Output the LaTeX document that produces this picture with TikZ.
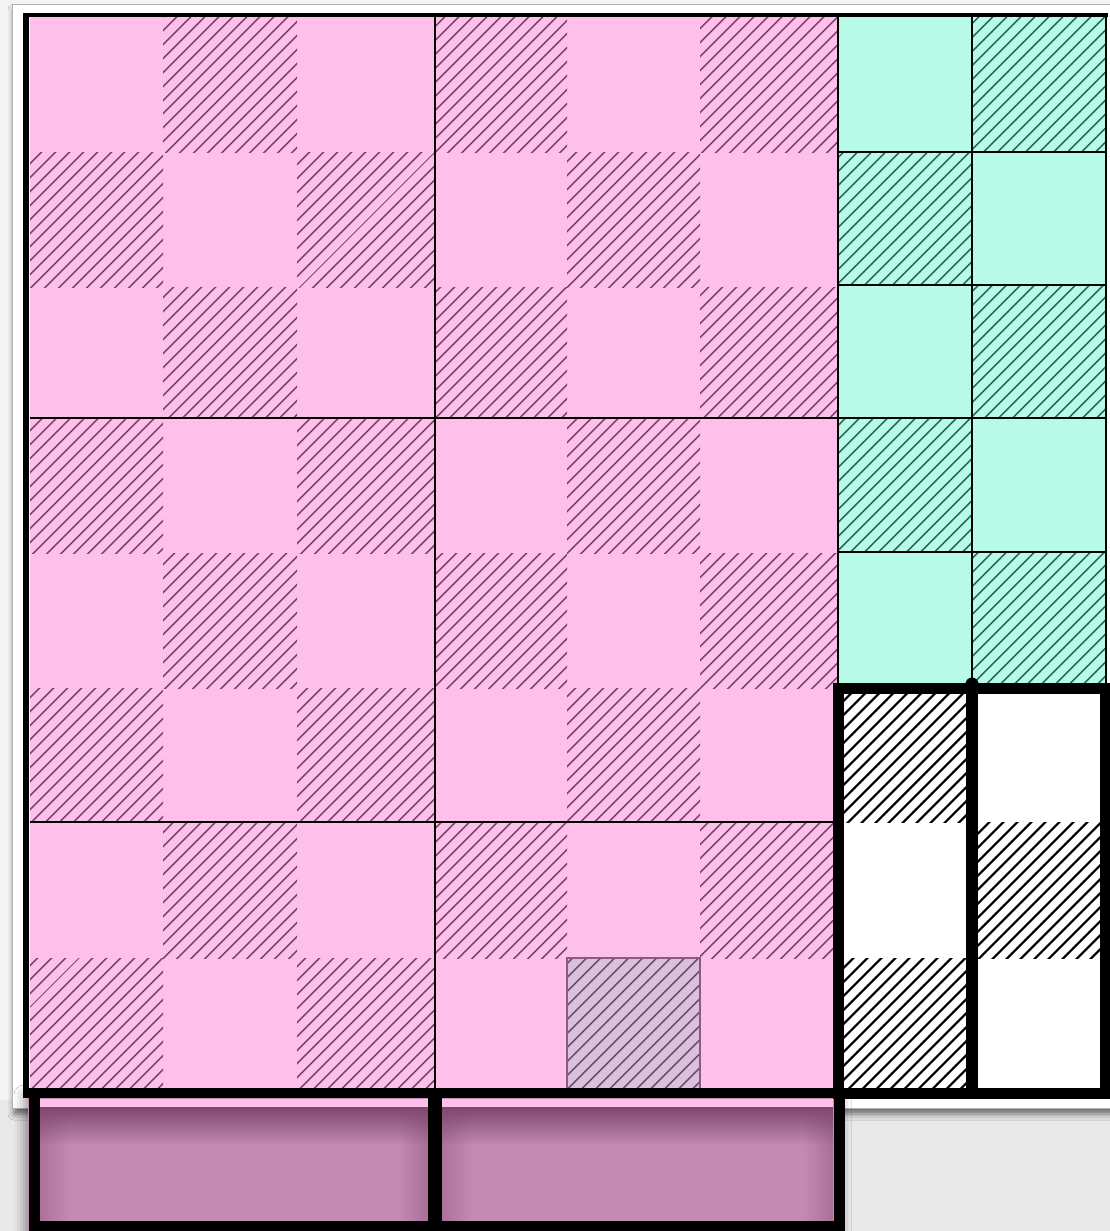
\documentclass[tikz,border=0pt]{standalone}
\usetikzlibrary{patterns.meta,shadows.blur,fadings}
\definecolor{bgl}{HTML}{F3F3F3}
\definecolor{bgd}{HTML}{E8E8E8}
\definecolor{pinkf}{HTML}{FEC0EA}
\definecolor{pinkh}{HTML}{7A4A6E}
\definecolor{tealf}{HTML}{B7FAE7}
\definecolor{tealh}{HTML}{2F6B5A}
\definecolor{lav}{HTML}{D8C1DC}
\definecolor{lavb}{HTML}{8B5A82}
\definecolor{mauve}{HTML}{C58AB3}
\definecolor{mauved}{HTML}{7E4770}
\tikzfading[name=fadedown, top color=transparent!0, bottom color=transparent!100]
\tikzfading[name=faderight, left color=transparent!0, right color=transparent!100]
\tikzfading[name=fadeleft, left color=transparent!100, right color=transparent!0]
\tikzset{
  hatchpink/.style={pattern={Lines[angle=45,distance=10.5pt,line width=1.8pt]},pattern color=pinkh},
  hatchteal/.style={pattern={Lines[angle=45,distance=10.5pt,line width=1.9pt]},pattern color=tealh},
  hatchblack/.style={pattern={Lines[angle=45,distance=10.5pt,line width=2.5pt]},pattern color=black},
  thinline/.style={line width=1.6pt,black},
  thickline/.style={line width=11pt,black},
}
\begin{document}
\begin{tikzpicture}[x=1pt,y=-1pt]
\useasboundingbox (0,0) rectangle (1110,1231);
% background
\fill[bgd] (0,0) rectangle (1110,1231);
\fill[bgl] (0,0) rectangle (1110,1100);
% white panel with shadow
\path[fill=white,draw=black!30,line width=0.8pt,blur shadow={shadow xshift=2pt,shadow yshift=-6pt,shadow blur radius=6pt,shadow opacity=55}] (12,4) rectangle (1112,1108);
% bar shadow
\path[fill=mauve,blur shadow={shadow xshift=-4pt,shadow yshift=-2pt,shadow blur radius=10pt,shadow opacity=40}] (28,1093) rectangle (845,1240);

% pink area
\fill[pinkf] (30,17) rectangle (838,1088);
\foreach \xa/\xb [count=\c from 0] in {30/163,163/297,297/435,435/567,567/700,700/838}{
  \foreach \ya/\yb [count=\r from 0] in {17/152,152/287,287/418,418/553,553/688,688/822,822/958,958/1088}{
    \pgfmathtruncatemacro{\odd}{mod(\r+\c,2)}
    \ifnum\odd=1
      \fill[hatchpink] (\xa,\ya) rectangle (\xb,\yb);
    \fi
  }
}
% special lavender cell
\fill[lav] (567,958) rectangle (700,1088);
\fill[hatchpink] (567,958) rectangle (700,1088);
\draw[lavb,line width=1.2pt] (567,1088) -- (567,958) -- (700,958) -- (700,1088);
% pink block lines
\draw[thinline] (435,17) -- (435,1088);
\draw[thinline] (30,418) -- (838,418);
\draw[thinline] (30,822) -- (838,822);

% teal area
\fill[tealf] (838,17) rectangle (1106,688);
\foreach \xa/\xb [count=\c from 0] in {838/972,972/1106}{
  \foreach \ya/\yb [count=\r from 0] in {17/152,152/285,285/418,418/552,552/688}{
    \pgfmathtruncatemacro{\odd}{mod(\r+\c,2)}
    \ifnum\odd=1
      \fill[hatchteal] (\xa,\ya) rectangle (\xb,\yb);
    \fi
  }
}
\draw[thinline] (838,17) -- (838,688);
\draw[thinline] (972,17) -- (972,688);
\foreach \y in {152,285,418,552}{
  \draw[thinline] (838,\y) -- (1106,\y);
}
\draw[black,line width=2.5pt] (1106,15) -- (1106,688);

% white block
\fill[white] (838,688) rectangle (1105,1093);
\fill[hatchblack] (838,688) rectangle (972,822);
\fill[hatchblack] (972,822) rectangle (1105,958);
\fill[hatchblack] (838,958) rectangle (972,1093);

% bottom bar boxes
\foreach \xa/\xb in {40/428,442/833}{
  \fill[pinkf] (\xa,1099) rectangle (\xb,1108);
  \fill[mauve] (\xa,1108) rectangle (\xb,1231);
  \fill[mauved,opacity=0.35,path fading=faderight] (\xa,1108) rectangle ({\xa+30},1231);
  \fill[mauved,opacity=0.4,path fading=fadeleft] ({\xb-30},1108) rectangle (\xb,1231);
  \fill[mauved,path fading=fadedown] (\xa,1107) rectangle (\xb,1145);
}

% frame lines
\draw[black,line width=6pt] (26,14) -- (26,1093);
\draw[black,line width=4pt] (23,15) -- (1108,15);
\draw[black,line width=10pt] (23,1093) -- (1110,1093);
\draw[thickline] (838,688) rectangle (1105,1093);
\draw[black,line width=12pt] (972,688) -- (972,1093);
\fill[black] (972,684) circle (6.5);
\draw[thickline] (34,1093) -- (34,1226) -- (839,1226) -- (839,1093);
\draw[black,line width=14pt] (435,1093) -- (435,1231);
\end{tikzpicture}
\end{document}
